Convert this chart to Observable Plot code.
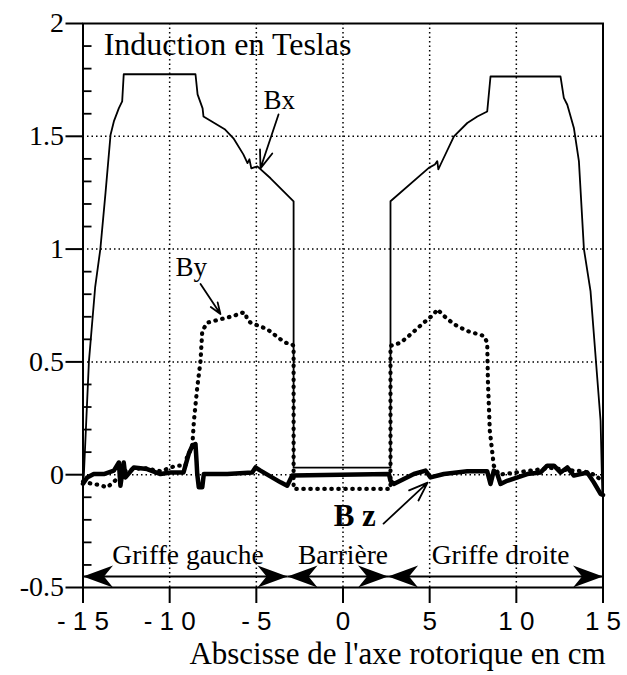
<!DOCTYPE html>
<html>
<head>
<meta charset="utf-8">
<script src="https://cdn.jsdelivr.net/npm/d3@7"></script>
<script src="https://cdn.jsdelivr.net/npm/@observablehq/plot@0.6"></script>
<style>
  html, body { margin: 0; padding: 0; background: white; }
  #chart svg { display: block; }
</style>
</head>
<body>
<div id="chart"></div>
<script>
// ---- Data ----
const bxX = [-15, -14.95, -14.66, -14.3, -14.0, -13.7, -13.41, -13.22, -12.93, -12.74, -12.65, -8.51, -8.39, -8.1, -8.05, -6.8, -6.32, -5.75, -5.51, -5.4, -5.29, -4.94, -4.18, -2.85, -2.85, 2.74, 2.74, 4.95, 5.3, 5.44, 5.5, 5.63, 6.4, 7.17, 7.75, 8.32, 8.51, 12.55, 12.74, 12.94, 13.32, 13.61, 13.9, 14.28, 14.86, 14.96];
const bxY = [-0.04, 0.0, 0.5, 0.83, 1.0, 1.25, 1.507, 1.566, 1.625, 1.655, 1.775, 1.775, 1.686, 1.624, 1.588, 1.53, 1.491, 1.42, 1.381, 1.398, 1.358, 1.367, 1.314, 1.212, 0.031, 0.031, 1.212, 1.36, 1.375, 1.39, 1.353, 1.375, 1.5, 1.559, 1.588, 1.61, 1.765, 1.765, 1.67, 1.64, 1.537, 1.39, 1.0, 0.814, 0.239, -0.08];

const byX = [-15, -14.5, -14.1, -13.6, -13.2, -12.5, -11.5, -10.5, -9.95, -9.57, -9.09, -8.99, -8.7, -8.6, -8.41, -8.22, -8.12, -7.83, -7.07, -6.3, -5.81, -5.6, -5.55, -5.33, -4.37, -3.6, -3.31, -2.93, -2.85, -2.85, 2.74, 2.74, 3.32, 3.9, 4.66, 5.24, 5.44, 5.82, 6.4, 7.17, 8.13, 8.32, 8.36, 8.47, 8.7, 9.0, 10.0, 11.0, 12.0, 13.0, 13.9, 14.5, 15];
const byY = [-0.03, -0.04, -0.045, -0.056, -0.03, 0.02, 0.03, 0.015, 0.032, 0.04, 0.04, 0.084, 0.121, 0.239, 0.386, 0.504, 0.637, 0.674, 0.689, 0.704, 0.718, 0.715, 0.69, 0.674, 0.645, 0.6, 0.585, 0.578, 0.57, -0.063, -0.063, 0.571, 0.585, 0.622, 0.674, 0.711, 0.733, 0.704, 0.667, 0.637, 0.615, 0.585, 0.416, 0.195, 0.04, 0.0, 0.01, 0.02, 0.03, 0.02, 0.015, 0.0, -0.03];

const bzX = [-15, -14.76, -14.38, -13.8, -13.22, -12.93, -12.84, -12.65, -12.55, -12.07, -11.3, -10.53, -9.95, -9.2, -9.09, -8.9, -8.7, -8.51, -8.45, -8.41, -8.32, -8.12, -8.03, -6.68, -5.24, -5.05, -4.76, -3.6, -3.22, -2.93, 2.65, 2.74, 2.93, 4.09, 4.76, 5.05, 5.82, 7.17, 8.32, 8.51, 8.7, 8.9, 9.09, 9.47, 10.63, 11.4, 11.78, 12.17, 12.55, 12.94, 13.32, 14.09, 14.47, 14.86, 15];
const bzY = [-0.04, -0.012, 0.003, 0.003, 0.018, 0.054, -0.049, 0.054, -0.012, 0.032, 0.025, 0.003, 0.01, 0.01, 0.04, 0.092, 0.128, 0.136, 0.06, 0.003, -0.056, -0.056, 0.003, 0.003, 0.01, 0.032, 0.018, -0.034, -0.049, -0.004, 0.003, -0.027, -0.041, 0.003, 0.018, -0.012, 0.003, 0.015, 0.015, -0.041, 0.018, 0.003, -0.041, -0.027, 0.003, 0.01, 0.04, 0.04, 0.01, 0.032, -0.004, 0.01, -0.034, -0.085, -0.09];

const xTicks = [-15, -10, -5, 0, 5, 10, 15];
const xTickLabels = ["- 1 5", "- 1 0", "- 5", "0", "5", "1 0", "1 5"];
const xGrid = [-10, -5, 0, 5, 10];
const yTicks = [-0.5, 0, 0.5, 1, 1.5, 2];
const yTickLabels = ["-0.5", "0", "0.5", "1", "1.5", "2"];
const yMinorTicks = [-0.4, -0.3, -0.2, -0.1, 0.1, 0.2, 0.3, 0.4, 0.6, 0.7, 0.8, 0.9, 1.1, 1.2, 1.3, 1.4, 1.6, 1.7, 1.8, 1.9];
const yGrid = [0, 0.5, 1, 1.5];

const titleText = ["Induction en Teslas"];
const titleX = [-13.81];
const titleY = [1.905];

const curveLabels = ["Bx", "By"];
const curveLabelX = [-4.58, -9.66];
const curveLabelY = [1.66, 0.917];
const bzLabel = ["B z"];
const bzLabelX = [-0.54];
const bzLabelY = [-0.183];

const arrowX1 = [-3.72, -8.22, 2.34];
const arrowY1 = [1.597, 0.845, -0.217];
const arrowX2 = [-4.76, -7.07, 4.88];
const arrowY2 = [1.358, 0.712, -0.035];

const zoneNames = ["Griffe gauche", "Barrière", "Griffe droite"];
const zoneStart = [-15, -3.2, 2.6];
const zoneEnd = [-3.2, 2.6, 15];
const zoneLabelX = [-8.94, 0, 9.09];
const zoneLabelY = -0.357;
const zoneArrowY = -0.451;

const xAxisTitle = "Abscisse de l'axe rotorique en cm";
const xAxisTitleX = 15.15;
const xAxisTitleY = -0.795;

// ---- Build tables ----
const toPts = (xs, ys) => xs.map((x, i) => ({x, y: ys[i]}));
const bx = toPts(bxX, bxY);
const by = toPts(byX, byY);
const bz = toPts(bzX, bzY);
const curveLabelData = curveLabels.map((t, i) => ({t, x: curveLabelX[i], y: curveLabelY[i]}));
const bzLabelData = bzLabel.map((t, i) => ({t, x: bzLabelX[i], y: bzLabelY[i]}));
const arrowData = arrowX1.map((x1, i) => ({x1, y1: arrowY1[i], x2: arrowX2[i], y2: arrowY2[i]}));
const zoneData = zoneNames.map((t, i) => ({t, x1: zoneStart[i], x2: zoneEnd[i], xl: zoneLabelX[i], y: zoneArrowY, yl: zoneLabelY}));
const headData = zoneData.flatMap(z => [
  {x: z.x1, y: z.y, rot: 180},
  {x: z.x2, y: z.y, rot: 0}
]);

const arrowHead = {
  draw(ctx, size) {
    const r = Math.sqrt(size / Math.PI);
    ctx.moveTo(0, 0);
    ctx.lineTo(-3 * r, -1.1 * r);
    ctx.lineTo(-2.1 * r, 0);
    ctx.lineTo(-3 * r, 1.1 * r);
    ctx.closePath();
  }
};

const serif = "Liberation Serif, Times New Roman, serif";
const sans = "Liberation Sans, Arial, sans-serif";
const xMin = -15;
const minorTickLen = 0.52; // in x units (about 9 px)

const chart = Plot.plot({
  width: 627,
  height: 675,
  marginLeft: 82.5,
  marginRight: 24.5,
  marginTop: 23,
  marginBottom: 88,
  style: {background: "white", color: "black", overflow: "visible"},
  x: {domain: [-15, 15]},
  y: {domain: [-0.5, 2]},
  marks: [
    Plot.ruleY(yGrid, {stroke: "black", strokeWidth: 1.5, strokeDasharray: "1.5,3"}),
    Plot.ruleX(xGrid, {stroke: "black", strokeWidth: 1.5, strokeDasharray: "1.5,3"}),
    Plot.line(by, {x: "x", y: "y", stroke: "black", strokeWidth: 4.2, strokeDasharray: "0.5,6.5", strokeLinecap: "round", strokeLinejoin: "round"}),
    Plot.line(bz, {x: "x", y: "y", stroke: "black", strokeWidth: 4.5, strokeLinejoin: "round"}),
    Plot.line(bx, {x: "x", y: "y", stroke: "black", strokeWidth: 1.8, strokeLinejoin: "round"}),
    Plot.frame({stroke: "black", strokeWidth: 2}),
    Plot.ruleY(yMinorTicks, {y: d => d, x1: () => xMin, x2: () => xMin + minorTickLen, stroke: "black", strokeWidth: 1.8}),
    Plot.axisY({ticks: yTicks, tickFormat: d => yTickLabels[yTicks.indexOf(d)], tickSize: 17, tickPadding: 2, strokeWidth: 2, fontSize: 28, fontFamily: serif, label: null}),
    Plot.axisX({ticks: xTicks, tickFormat: d => xTickLabels[xTicks.indexOf(d)], tickSize: 16, tickPadding: 8, strokeWidth: 2, fontSize: 26, fontFamily: sans, label: null, style: {letterSpacing: "2px"}}),
    // zone double arrows
    Plot.link(zoneData, {x1: "x1", x2: "x2", y1: "y", y2: "y", stroke: "black", strokeWidth: 2}),
    Plot.dot(headData, {x: "x", y: "y", r: 10, rotate: "rot", symbol: arrowHead, fill: "black", stroke: "none"}),
    Plot.text(zoneData, {x: "xl", y: "yl", text: "t", fontSize: 27.5, fontFamily: serif, textAnchor: "middle", lineAnchor: "middle", fill: "black"}),
    // title & curve labels
    Plot.text(titleText, {x: titleX, y: titleY, text: d => d, fontSize: 32, fontFamily: serif, textAnchor: "start", lineAnchor: "middle", fill: "black"}),
    Plot.text(curveLabelData, {x: "x", y: "y", text: "t", fontSize: 27, fontFamily: serif, textAnchor: "start", lineAnchor: "middle", fill: "black"}),
    Plot.text(bzLabelData, {x: "x", y: "y", text: "t", fontSize: 31, fontWeight: "bold", fontFamily: serif, textAnchor: "start", lineAnchor: "middle", fill: "black"}),
    Plot.arrow(arrowData, {x1: "x1", y1: "y1", x2: "x2", y2: "y2", stroke: "black", strokeWidth: 1.8, headLength: 22, headAngle: 40}),
    // x axis title
    Plot.text([xAxisTitle], {x: [xAxisTitleX], y: [xAxisTitleY], text: d => d, fontSize: 31, fontFamily: serif, textAnchor: "end", lineAnchor: "middle", fill: "black"})
  ]
});
document.getElementById("chart").appendChild(chart);
</script>
</body>
</html>
